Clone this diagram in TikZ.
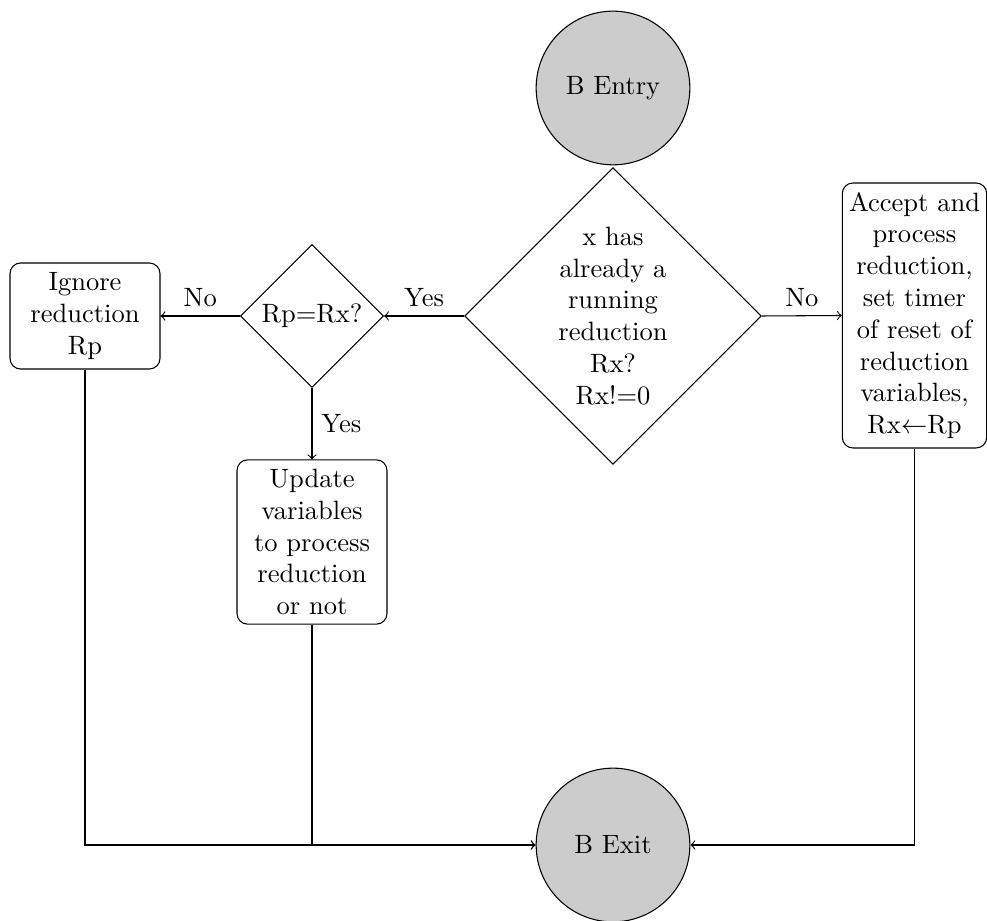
\documentclass[tikz,border=0pt]{standalone}
\usetikzlibrary{shapes.geometric}
\begin{document}
\begin{tikzpicture}[x=0.3774pt,y=-0.3774pt,
  terminal/.style={circle,draw,fill=black!20,minimum size=58pt,inner sep=0pt},
  decision/.style={diamond,draw,aspect=1,inner sep=0pt,align=center},
  process/.style={rectangle,draw,rounded corners=4pt,align=center,inner sep=1pt},
  flow/.style={->},
  lbl/.style={font=\normalsize}]
\useasboundingbox (0,0) rectangle (987,921);

% nodes
\node[terminal] (entry) at (613,88) {B Entry};
\node[decision,minimum width=112pt,minimum height=112pt] (check) at (613,316)
  {x has\\already a\\running\\reduction\\Rx?\\Rx!=0};
\node[decision,minimum width=54pt,minimum height=54pt] (same) at (312,316) {Rp=Rx?};
\node[process,minimum width=56.6pt,minimum height=40pt] (ignore) at (85,316)
  {Ignore\\reduction\\Rp};
\node[process,minimum width=56.6pt,minimum height=62pt] (update) at (312,542)
  {Update\\variables\\to process\\reduction\\or not};
\node[process,minimum width=54.5pt,minimum height=100pt] (accept) at (914.5,315.5)
  {Accept and\\process\\reduction,\\set timer\\of reset of\\reduction\\variables,\\Rx$\leftarrow$Rp};
\node[terminal] (exit) at (613,845) {B Exit};

% connectors
\draw[flow] (check.west) -- node[above,lbl] {Yes} (same.east);
\draw[flow] (same.west) -- node[above,lbl] {No} (ignore.east);
\draw[flow] (same.south) -- node[right,lbl] {Yes} (update.north);
\draw[flow] (check.east) -- node[above,lbl] {No} (accept.west);
\draw[flow] (ignore.south) |- (exit.west);
\draw[flow] (update.south) |- (exit.west);
\draw[flow] (accept.south) |- (exit.east);
\end{tikzpicture}
\end{document}
